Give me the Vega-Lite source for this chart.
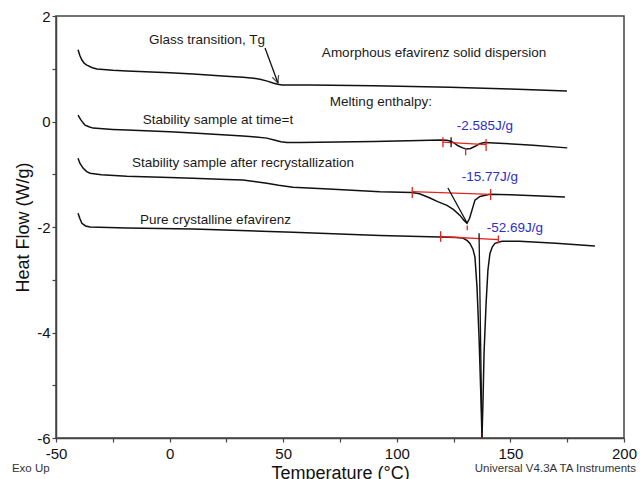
{
  "$schema": "https://vega.github.io/schema/vega-lite/v6.json",
  "width": 568,
  "height": 422,
  "autosize": "none",
  "padding": {"left": 56, "top": 16, "right": 16, "bottom": 41},
  "background": "white",
  "config": {
    "view": {"stroke": "#444", "strokeWidth": 1.5},
    "font": "Liberation Sans",
    "axis": {
      "grid": false,
      "domainColor": "#444",
      "domainWidth": 1.5,
      "tickColor": "#444",
      "tickWidth": 1.2,
      "tickSize": 4,
      "labelFont": "Liberation Sans",
      "labelFontSize": 15,
      "labelColor": "#111",
      "titleFont": "Liberation Sans",
      "titleFontSize": 18,
      "titleFontWeight": "normal",
      "titleColor": "#111"
    }
  },
  "resolve": {"scale": {"color": "independent"}},
  "datasets": {
    "curves": [
      {"s": "A", "T": -40.3, "v": 1.36}, {"s": "A", "T": -39.5, "v": 1.25}, {"s": "A", "T": -38.6, "v": 1.165}, {"s": "A", "T": -37.5, "v": 1.10}, {"s": "A", "T": -36.4, "v": 1.07}, {"s": "A", "T": -34, "v": 1.02}, {"s": "A", "T": -32, "v": 0.994}, {"s": "A", "T": -25, "v": 0.97}, {"s": "A", "T": -18.8, "v": 0.956}, {"s": "A", "T": 0, "v": 0.925}, {"s": "A", "T": 10.3, "v": 0.90}, {"s": "A", "T": 25, "v": 0.86}, {"s": "A", "T": 32.3, "v": 0.84}, {"s": "A", "T": 37, "v": 0.82}, {"s": "A", "T": 39.8, "v": 0.80}, {"s": "A", "T": 43, "v": 0.765}, {"s": "A", "T": 45.5, "v": 0.73}, {"s": "A", "T": 47.5, "v": 0.705}, {"s": "A", "T": 49.5, "v": 0.69}, {"s": "A", "T": 61.8, "v": 0.69}, {"s": "A", "T": 90, "v": 0.68}, {"s": "A", "T": 123.4, "v": 0.65}, {"s": "A", "T": 150, "v": 0.615}, {"s": "A", "T": 174.9, "v": 0.58},
      {"s": "B", "T": -40.3, "v": 0.12}, {"s": "B", "T": -39.2, "v": 0.04}, {"s": "B", "T": -38, "v": -0.03}, {"s": "B", "T": -37.2, "v": -0.07}, {"s": "B", "T": -35.5, "v": -0.10}, {"s": "B", "T": -33.7, "v": -0.125}, {"s": "B", "T": -25, "v": -0.15}, {"s": "B", "T": -18.8, "v": -0.163}, {"s": "B", "T": 0, "v": -0.195}, {"s": "B", "T": 10.3, "v": -0.22}, {"s": "B", "T": 25, "v": -0.255}, {"s": "B", "T": 32.3, "v": -0.277}, {"s": "B", "T": 38, "v": -0.295}, {"s": "B", "T": 42.8, "v": -0.315}, {"s": "B", "T": 46, "v": -0.35}, {"s": "B", "T": 49, "v": -0.385}, {"s": "B", "T": 51.7, "v": -0.40}, {"s": "B", "T": 57.4, "v": -0.40}, {"s": "B", "T": 90, "v": -0.38}, {"s": "B", "T": 110, "v": -0.36}, {"s": "B", "T": 119, "v": -0.35}, {"s": "B", "T": 122, "v": -0.355}, {"s": "B", "T": 123.4, "v": -0.37}, {"s": "B", "T": 125, "v": -0.40}, {"s": "B", "T": 127, "v": -0.46}, {"s": "B", "T": 129, "v": -0.50}, {"s": "B", "T": 130.5, "v": -0.52}, {"s": "B", "T": 132.5, "v": -0.51}, {"s": "B", "T": 134.5, "v": -0.47}, {"s": "B", "T": 136.5, "v": -0.42}, {"s": "B", "T": 138.5, "v": -0.40}, {"s": "B", "T": 145, "v": -0.41}, {"s": "B", "T": 160, "v": -0.45}, {"s": "B", "T": 175, "v": -0.50},
      {"s": "C", "T": -40.3, "v": -0.695}, {"s": "C", "T": -39.5, "v": -0.79}, {"s": "C", "T": -38.1, "v": -0.884}, {"s": "C", "T": -36.5, "v": -0.95}, {"s": "C", "T": -35, "v": -0.98}, {"s": "C", "T": -30, "v": -1.01}, {"s": "C", "T": -18.8, "v": -1.036}, {"s": "C", "T": 0, "v": -1.06}, {"s": "C", "T": 10.3, "v": -1.074}, {"s": "C", "T": 25, "v": -1.10}, {"s": "C", "T": 32.3, "v": -1.11}, {"s": "C", "T": 38, "v": -1.14}, {"s": "C", "T": 42.8, "v": -1.17}, {"s": "C", "T": 48, "v": -1.21}, {"s": "C", "T": 54.3, "v": -1.245}, {"s": "C", "T": 70, "v": -1.28}, {"s": "C", "T": 92.6, "v": -1.33}, {"s": "C", "T": 106.7, "v": -1.345}, {"s": "C", "T": 110, "v": -1.37}, {"s": "C", "T": 114.6, "v": -1.45}, {"s": "C", "T": 118, "v": -1.52}, {"s": "C", "T": 122.1, "v": -1.59}, {"s": "C", "T": 125, "v": -1.67}, {"s": "C", "T": 127.8, "v": -1.78}, {"s": "C", "T": 129.5, "v": -1.87}, {"s": "C", "T": 130.9, "v": -1.93}, {"s": "C", "T": 132, "v": -1.84}, {"s": "C", "T": 133.1, "v": -1.68}, {"s": "C", "T": 134.4, "v": -1.49}, {"s": "C", "T": 136.6, "v": -1.42}, {"s": "C", "T": 141, "v": -1.38}, {"s": "C", "T": 150, "v": -1.39}, {"s": "C", "T": 174, "v": -1.43},
      {"s": "D", "T": -40.3, "v": -1.74}, {"s": "D", "T": -39.5, "v": -1.84}, {"s": "D", "T": -38.6, "v": -1.93}, {"s": "D", "T": -37, "v": -1.98}, {"s": "D", "T": -35, "v": -2.0}, {"s": "D", "T": -18.8, "v": -2.02}, {"s": "D", "T": 10.3, "v": -2.04}, {"s": "D", "T": 54.3, "v": -2.10}, {"s": "D", "T": 92.6, "v": -2.16}, {"s": "D", "T": 119, "v": -2.19}, {"s": "D", "T": 126, "v": -2.20}, {"s": "D", "T": 129.1, "v": -2.21}, {"s": "D", "T": 131, "v": -2.26}, {"s": "D", "T": 132.2, "v": -2.31}, {"s": "D", "T": 133.5, "v": -2.42}, {"s": "D", "T": 134.4, "v": -2.57}, {"s": "D", "T": 135.3, "v": -3.14}, {"s": "D", "T": 136.2, "v": -4.09}, {"s": "D", "T": 137.0, "v": -5.2}, {"s": "D", "T": 137.5, "v": -5.99}, {"s": "D", "T": 138.0, "v": -5.2}, {"s": "D", "T": 138.4, "v": -4.39}, {"s": "D", "T": 139.3, "v": -3.45}, {"s": "D", "T": 140.1, "v": -2.82}, {"s": "D", "T": 141, "v": -2.50}, {"s": "D", "T": 142, "v": -2.38}, {"s": "D", "T": 143.2, "v": -2.31}, {"s": "D", "T": 146.3, "v": -2.27}, {"s": "D", "T": 154, "v": -2.27}, {"s": "D", "T": 170, "v": -2.31}, {"s": "D", "T": 187.2, "v": -2.36}
    ],
    "segments": [
      {"k": "baseline", "T": 120.3, "v": -0.30, "T2": 120.3, "v2": -0.49},
      {"k": "baseline", "T": 139.3, "v": -0.33, "T2": 139.3, "v2": -0.56},
      {"k": "baseline", "T": 120.3, "v": -0.39, "T2": 139.3, "v2": -0.44},
      {"k": "baseline", "T": 130.3, "v": -0.50, "T2": 130.3, "v2": -0.64},
      {"k": "baseline", "T": 106.8, "v": -1.24, "T2": 106.8, "v2": -1.45},
      {"k": "baseline", "T": 141.3, "v": -1.28, "T2": 141.3, "v2": -1.49},
      {"k": "baseline", "T": 106.8, "v": -1.33, "T2": 141.3, "v2": -1.38},
      {"k": "baseline", "T": 131.0, "v": -1.97, "T2": 131.0, "v2": -2.06},
      {"k": "baseline", "T": 119.3, "v": -2.08, "T2": 119.3, "v2": -2.28},
      {"k": "baseline", "T": 144.7, "v": -2.16, "T2": 144.7, "v2": -2.31},
      {"k": "baseline", "T": 119.3, "v": -2.18, "T2": 144.7, "v2": -2.24},
      {"k": "baseline", "T": 137.5, "v": -5.90, "T2": 137.5, "v2": -6.0},
      {"k": "tangent", "T": 123.9, "v": -0.30, "T2": 123.9, "v2": -0.49},
      {"k": "tangent", "T": 122.5, "v": -1.26, "T2": 131.0, "v2": -1.93},
      {"k": "tangent", "T": 136.2, "v": -2.12, "T2": 137.5, "v2": -5.99}
    ],
    "notes": [
      {"k": "note", "T": 16.5, "v": 1.545, "text": "Glass transition, Tg"},
      {"k": "note", "T": 116.4, "v": 1.298, "text": "Amorphous efavirenz solid dispersion"},
      {"k": "note", "T": 93.0, "v": 0.368, "text": "Melting enthalpy:"},
      {"k": "note", "T": 21.3, "v": 0.027, "text": "Stability sample at time=t"},
      {"k": "note", "T": 32.3, "v": -0.79, "text": "Stability sample after recrystallization"},
      {"k": "note", "T": 20.2, "v": -1.871, "text": "Pure crystalline efavirenz"},
      {"k": "value", "T": 138.8, "v": -0.087, "text": "-2.585J/g"},
      {"k": "value", "T": 141.0, "v": -1.055, "text": "-15.77J/g"},
      {"k": "value", "T": 152.0, "v": -2.023, "text": "-52.69J/g"}
    ]
  },
  "layer": [
    {
      "data": {"name": "curves"},
      "mark": {"type": "line", "color": "#111", "strokeWidth": 1.5},
      "encoding": {
        "x": {"field": "T", "type": "quantitative", "scale": {"domain": [-50, 200], "nice": false, "zero": false},
          "axis": {"title": "Temperature (°C)", "values": [-50, -37.5, -25, -12.5, 0, 12.5, 25, 37.5, 50, 62.5, 75, 87.5, 100, 112.5, 125, 137.5, 150, 162.5, 175, 187.5, 200],
            "labelExpr": "datum.value % 50 === 0 ? '' + datum.value : ''", "labelPadding": 4, "titlePadding": 3, "labelFlush": false, "labelOverlap": false}},
        "y": {"field": "v", "type": "quantitative", "scale": {"domain": [-6, 2], "nice": false, "zero": false},
          "axis": {"title": "Heat Flow (W/g)", "values": [-6, -5.5, -5, -4.5, -4, -3.5, -3, -2.5, -2, -1.5, -1, -0.5, 0, 0.5, 1, 1.5, 2],
            "labelExpr": "datum.value % 2 === 0 ? '' + datum.value : ''", "labelPadding": 2, "titlePadding": 4, "labelFlush": false, "labelOverlap": false}},
        "detail": {"field": "s"}
      }
    },
    {
      "data": {"name": "segments"},
      "mark": {"type": "rule", "strokeWidth": 1.3},
      "encoding": {
        "x": {"field": "T", "type": "quantitative"},
        "y": {"field": "v", "type": "quantitative"},
        "x2": {"field": "T2"},
        "y2": {"field": "v2"},
        "color": {"field": "k", "type": "nominal", "scale": {"domain": ["baseline", "tangent"], "range": ["#e3241f", "#111111"]}, "legend": null}
      }
    },
    {
      "data": {"values": [{"T": 42.0, "v": 1.393, "T2": 47.7, "v2": 0.729}]},
      "mark": {"type": "rule", "color": "#111", "strokeWidth": 1.3},
      "encoding": {
        "x": {"field": "T", "type": "quantitative"},
        "y": {"field": "v", "type": "quantitative"},
        "x2": {"field": "T2"},
        "y2": {"field": "v2"}
      }
    },
    {
      "data": {"values": [{"T": 47.7, "v": 0.729}]},
      "mark": {"type": "point", "shape": "M -0.45 -1 L 0 0 L 0.45 -1", "filled": false, "stroke": "#111", "strokeWidth": 1.3, "size": 220, "angle": -20},
      "encoding": {
        "x": {"field": "T", "type": "quantitative"},
        "y": {"field": "v", "type": "quantitative"}
      }
    },
    {
      "data": {"name": "notes"},
      "mark": {"type": "text", "font": "Liberation Sans", "fontSize": 13.5, "align": "center", "baseline": "middle"},
      "encoding": {
        "x": {"field": "T", "type": "quantitative"},
        "y": {"field": "v", "type": "quantitative"},
        "text": {"field": "text"},
        "color": {"field": "k", "type": "nominal", "scale": {"domain": ["note", "value"], "range": ["#1a1a1a", "#2d2dc8"]}, "legend": null}
      }
    },
    {
      "data": {"values": [{"T": -69.4, "v": -6.58, "text": "Exo Up"}]},
      "mark": {"type": "text", "font": "Liberation Sans", "fontSize": 11.5, "color": "#333", "baseline": "middle", "align": "left"},
      "encoding": {
        "x": {"field": "T", "type": "quantitative"},
        "y": {"field": "v", "type": "quantitative"},
        "text": {"field": "text"}
      }
    },
    {
      "data": {"values": [{"T": 205.3, "v": -6.58, "text": "Universal V4.3A TA Instruments"}]},
      "mark": {"type": "text", "font": "Liberation Sans", "fontSize": 11.5, "color": "#333", "baseline": "middle", "align": "right"},
      "encoding": {
        "x": {"field": "T", "type": "quantitative"},
        "y": {"field": "v", "type": "quantitative"},
        "text": {"field": "text"}
      }
    }
  ]
}
